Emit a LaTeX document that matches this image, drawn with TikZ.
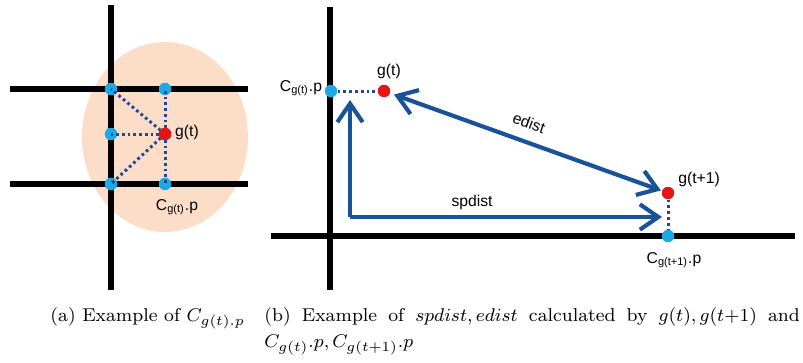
\documentclass[tikz,border=0pt]{standalone}
\usepackage{fontspec}
\newfontfamily\lab{Liberation Sans}
\usetikzlibrary{arrows.meta,calc}
\definecolor{peach}{RGB}{252,222,200}
\definecolor{cyandot}{RGB}{27,170,230}
\definecolor{reddot}{RGB}{230,20,20}
\definecolor{arrblue}{RGB}{25,82,152}
\definecolor{dotblue}{RGB}{35,70,150}
\tikzset{
  axis/.style={line width=2.8pt, black},
  bdot/.style={circle, fill=cyandot, inner sep=0pt, minimum size=5.4pt},
  rdot/.style={circle, fill=reddot, inner sep=0pt, minimum size=5.4pt},
  dotl/.style={dotblue, line width=1.3pt, dash pattern=on 1.2pt off 1.3pt},
  barrow/.style={arrblue, line width=1.8pt, line join=round,
     arrows={-Straight Barb[length=8pt, width=11pt, line width=1.8pt]}},
  lbl/.style={font=\lab\fontsize{6.8}{8}\selectfont, inner sep=0pt},
  captext/.style={inner sep=0pt, anchor=base west, font=\fontsize{8.05}{9.6}\selectfont}
}
\begin{document}
\begin{tikzpicture}[x=0.4333pt, y=-0.4333pt]
\useasboundingbox (0,0) rectangle (803,362);
% ---------- panel (a)
\fill[peach] (165,137) ellipse [x radius=83, y radius=95];
\coordinate (av1) at (111,5);   \coordinate (av2) at (111,290);
\coordinate (ah1l) at (10,89);  \coordinate (ah1r) at (248,89);
\coordinate (ah2l) at (10,184); \coordinate (ah2r) at (248,184);
\draw[axis] (av1) -- (av2);
\draw[axis] (ah1l) -- (ah1r);
\draw[axis] (ah2l) -- (ah2r);
\node[rdot] (ag) at (165,134) {};
\node[bdot] (a1) at (111,89) {};
\node[bdot] (a2) at (165,89) {};
\node[bdot] (a3) at (111,134) {};
\node[bdot] (a4) at (111,184) {};
\node[bdot] (a5) at (165,184) {};
\foreach \n in {a1,a2,a3,a4,a5} \draw[dotl] (ag.center) -- (\n.center);
\node[bdot] at (ag) {};
\node[rdot] at (ag) {};
\node[lbl] (agl) at (187,132) {g(t)};
\node[lbl] (acl) at (177,207) {C\textsubscript{g(t)}.p};
% ---------- panel (b)
\coordinate (bv1) at (330,7);   \coordinate (bv2) at (330,290);
\coordinate (bh1) at (271,236); \coordinate (bh2) at (795,236);
\draw[axis] (bv1) -- (bv2);
\draw[axis] (bh1) -- (bh2);
\node[bdot] (bc1) at (331,91) {};
\node[rdot] (bg1) at (384,91) {};
\node[rdot] (bg2) at (668,193) {};
\node[bdot] (bc2) at (668,236) {};
\draw[dotl] (bc1) -- (bg1);
\draw[dotl] (bg2) -- (bc2);
\coordinate (corner) at (350,217);
\coordinate (uptip) at (350,100);
\coordinate (rtip) at (662,217);
\draw[barrow] (corner) -- (uptip);
\draw[barrow] (corner) -- (rtip);
\draw[barrow, arrows={Straight Barb[length=8pt, width=11pt, line width=1.8pt]-Straight Barb[length=8pt, width=11pt, line width=1.8pt]}]
  ($(bg1)!0.035!(bg2)$) -- ($(bg1)!0.975!(bg2)$);
\node[lbl] (bgl1) at (389,71) {g(t)};
\node[lbl] (bcl1) at (301,88) {C\textsubscript{g(t)}.p};
\node[lbl] (bgl2) at (699,179) {g(t+1)};
\node[lbl] (bcl2) at (674,260) {C\textsubscript{g(t+1)}.p};
\node[lbl] (spd) at (472,202) {spdist};
\node[lbl, rotate=-20] (ed) at (529,123) {edist};
% ---------- captions
\node[captext] (capa) at (50,321) {(a) Example of $C_{g(t).p}$};
\node[captext] (capb1) at (264,321) {\makebox[232pt][s]{(b) Example of $spdist, edist$ calculated by $g(t), g(t{+}1)$ and}};
\node[captext] (capb2) at (264,347) {$C_{g(t)}.p, C_{g(t+1)}.p$};
\end{tikzpicture}
\end{document}
